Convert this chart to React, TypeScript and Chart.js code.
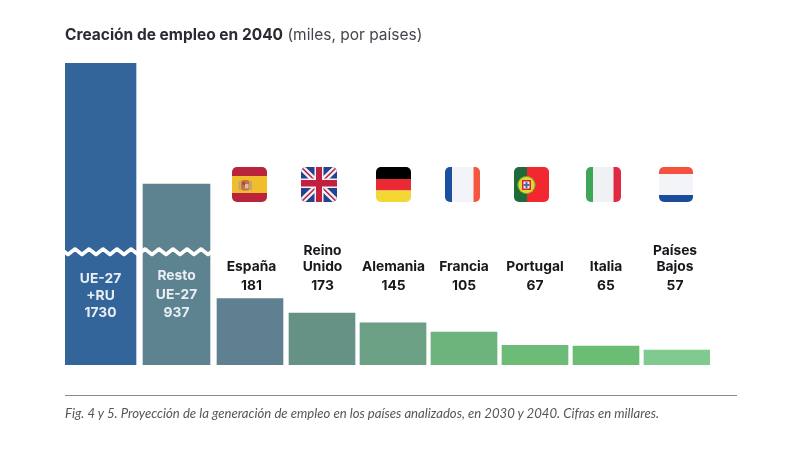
import React, { useEffect, useRef } from "react";
import { Chart, CategoryScale, registerables } from "chart.js";

Chart.register(...registerables);

const categories = ["UE-27 +RU", "Resto UE-27", "España", "Reino Unido", "Alemania", "Francia", "Portugal", "Italia", "Países Bajos"];
// Figures printed on the chart
const printedValues = [1730, 937, 181, 173, 145, 105, 67, 65, 57];
// Drawn bar lengths (the reference's axis is broken, so lengths differ from the printed figures)
const barLengths = [1730, 1037, 381, 298, 241, 189, 112, 109, 86];
const barColors = ["#33659a", "#5d8290", "#5e8090", "#659284", "#6ba084", "#6db37c", "#6cbc78", "#6abd72", "#80c98f"];

const SLOT_OFFSETS = [35.5, 111.5, 185, 257, 328, 399, 470, 541, 612];

class SlotScale extends CategoryScale {
  static id = "slot";
  static defaults = (CategoryScale as any).defaults;
  getPixelForValue(value: any, index?: number) {
    const i = typeof value === "number" ? value : index ?? 0;
    return (this as any).left + SLOT_OFFSETS[i];
  }
}
Chart.register(SlotScale as any);

const FONT = "Inter, 'Noto Sans', sans-serif";

const outsideLabels: { lines: string[]; dx: number }[] = [
  { lines: ["España"], dx: 1.5 },
  { lines: ["Reino", "Unido"], dx: 0.5 },
  { lines: ["Alemania"], dx: 0.5 },
  { lines: ["Francia"], dx: 0 },
  { lines: ["Portugal"], dx: 0 },
  { lines: ["Italia"], dx: 0 },
  { lines: ["Países", "Bajos"], dx: -2 },
];

function roundedClip(ctx: CanvasRenderingContext2D, x: number, y: number, w: number, h: number, draw: () => void) {
  ctx.save();
  ctx.beginPath();
  ctx.roundRect(x, y, w, h, 5);
  ctx.clip();
  draw();
  ctx.restore();
}

const FLAG_Y = 167;
const FLAG_S = 35;

function stripesH(ctx: CanvasRenderingContext2D, x: number, w: number, parts: [string, number][]) {
  let y = FLAG_Y;
  parts.forEach(([c, h]) => { ctx.fillStyle = c; ctx.fillRect(x, y, w, h); y += h; });
}
function stripesV(ctx: CanvasRenderingContext2D, x: number, parts: [string, number][]) {
  let xx = x;
  parts.forEach(([c, w]) => { ctx.fillStyle = c; ctx.fillRect(xx, FLAG_Y, w, FLAG_S); xx += w; });
}

function drawFlags(ctx: CanvasRenderingContext2D) {
  const y = FLAG_Y, s = FLAG_S;
  // Spain
  roundedClip(ctx, 232, y, s, s, () => {
    stripesH(ctx, 232, s, [["#b9233c", 9], ["#f2bd2d", 17], ["#b9233c", 9]]);
    ctx.fillStyle = "#bda67c"; ctx.fillRect(238.5, 181, 2, 9); ctx.fillRect(250, 181, 2, 9);
    ctx.fillStyle = "#c4704a"; ctx.beginPath(); ctx.roundRect(241, 180, 8.5, 10.5, 2.5); ctx.fill();
    ctx.fillStyle = "#d8bcae"; ctx.fillRect(245, 184, 3.5, 4.5);
    ctx.fillStyle = "#a8473c"; ctx.fillRect(242.5, 182, 2.5, 3);
  });
  // United Kingdom
  roundedClip(ctx, 301, y, s + 1, s, () => {
    const x = 301, w = s + 1;
    ctx.fillStyle = "#27408f"; ctx.fillRect(x, y, w, s);
    ctx.lineCap = "butt";
    ctx.strokeStyle = "#f2f3f6"; ctx.lineWidth = 6;
    ctx.beginPath(); ctx.moveTo(x, y); ctx.lineTo(x + w, y + s); ctx.moveTo(x + w, y); ctx.lineTo(x, y + s); ctx.stroke();
    ctx.strokeStyle = "#c1213f"; ctx.lineWidth = 1.6;
    ctx.beginPath(); ctx.moveTo(x, y); ctx.lineTo(x + w, y + s); ctx.moveTo(x + w, y); ctx.lineTo(x, y + s); ctx.stroke();
    ctx.fillStyle = "#f2f3f6"; ctx.fillRect(x + 13.5, y, 9, s); ctx.fillRect(x, y + 11.5, w, 9.5);
    ctx.fillStyle = "#c1213f"; ctx.fillRect(x + 15, y, 6, s); ctx.fillRect(x, y + 13, w, 6.5);
  });
  // Germany
  roundedClip(ctx, 376, y, s, s, () => {
    stripesH(ctx, 376, s, [["#000000", 12], ["#ea2b35", 11.5], ["#f3d733", 11.5]]);
  });
  // France
  roundedClip(ctx, 445, y, s, s, () => {
    stripesV(ctx, 445, [["#1b4fa0", 7], ["#f3f4f7", 21.5], ["#f65540", 6.5]]);
  });
  // Portugal
  roundedClip(ctx, 514, y, s, s, () => {
    stripesV(ctx, 514, [["#1f6b38", 13], ["#f2272f", 22]]);
    const cx = 526.5, cy = 185;
    ctx.fillStyle = "#e9d52f"; ctx.beginPath(); ctx.arc(cx, cy, 9, 0, Math.PI * 2); ctx.fill();
    ctx.strokeStyle = "#2e8a3c"; ctx.lineWidth = 0.7; ctx.beginPath(); ctx.arc(cx, cy, 8.6, 0, Math.PI * 2); ctx.stroke();
    ctx.fillStyle = "#d8262c"; ctx.fillRect(cx - 4.5, cy - 5, 9, 10);
    ctx.fillStyle = "#eef0f4"; ctx.fillRect(cx - 3, cy - 3.5, 6, 7);
    ctx.fillStyle = "#4a6ca8"; ctx.fillRect(cx - 1, cy - 3, 2, 6); ctx.fillRect(cx - 3, cy - 1, 6, 2);
  });
  // Italy
  roundedClip(ctx, 586, y, s, s, () => {
    stripesV(ctx, 586, [["#3fa558", 7], ["#eff1f4", 20.5], ["#e02a44", 7.5]]);
  });
  // Netherlands
  roundedClip(ctx, 659, y, 34, s, () => {
    stripesH(ctx, 659, 34, [["#f6503f", 7], ["#f3f4f7", 21], ["#1c4d9c", 7]]);
  });
}

const chartDecorations = {
  id: "chartDecorations",
  afterDatasetsDraw(chart: any) {
    const { ctx, scales } = chart;
    const xs = scales.x;

    // White break across the two tall bars
    ctx.save();
    ctx.strokeStyle = "#ffffff";
    ctx.lineWidth = 3.6;
    ctx.lineJoin = "round";
    ctx.beginPath();
    const period = 14;
    for (let i = 0, x = 61; x <= 216; i++, x += period / 2) {
      const yy = i % 2 === 0 ? 249 : 254.5;
      if (i === 0) ctx.moveTo(x, yy); else ctx.lineTo(x, yy);
    }
    ctx.stroke();
    ctx.restore();

    drawFlags(ctx);

    ctx.save();
    ctx.textAlign = "center";
    ctx.textBaseline = "alphabetic";
    ctx.font = `700 13.8px ${FONT}`;

    // Labels inside the tall bars
    ctx.fillStyle = "#e9eef4";
    const ue = xs.getPixelForValue(0);
    ctx.fillText("UE-27", ue, 283);
    ctx.fillText("+RU", ue, 300);
    ctx.fillText(String(printedValues[0]), ue, 317);
    const rest = xs.getPixelForValue(1);
    ctx.fillText("Resto", rest, 280);
    ctx.fillText("UE-27", rest, 299);
    ctx.fillText(String(printedValues[1]), rest, 317);

    // Labels above the country bars
    ctx.fillStyle = "#17171c";
    outsideLabels.forEach((lab, k) => {
      const cx = xs.getPixelForValue(k + 2) + lab.dx;
      if (lab.lines.length === 2) {
        ctx.fillText(lab.lines[0], cx, 255);
        ctx.fillText(lab.lines[1], cx, 271);
      } else {
        ctx.fillText(lab.lines[0], cx, 271);
      }
      ctx.fillText(String(printedValues[k + 2]), cx, 290);
    });
    ctx.restore();
  },
};

export default function App() {
  const ref = useRef<HTMLCanvasElement>(null);
  useEffect(() => {
    document.body.style.margin = "0";
    document.body.style.background = "#ffffff";
    const only = (from: number, to: number) => barLengths.map((v, i) => (i >= from && i < to ? v : null));
    const chart = new Chart(ref.current!, {
      type: "bar",
      data: {
        labels: categories,
        datasets: [
          { label: "UE-27 +RU", data: only(0, 1), barThickness: 71, backgroundColor: barColors, grouped: false },
          { label: "Resto UE-27", data: only(1, 2), barThickness: 67, backgroundColor: barColors, grouped: false },
          { label: "Países", data: only(2, 9), barThickness: 66, backgroundColor: barColors, grouped: false },
        ] as any,
      },
      options: {
        animation: false,
        responsive: false,
        layout: { padding: { left: 65, right: 90, top: 63, bottom: 86 } },
        plugins: { legend: { display: false }, title: { display: false }, tooltip: { enabled: false } },
        scales: {
          x: { type: "slot" as any, display: false },
          y: { display: false, min: 0, max: 1730 },
        },
      },
      plugins: [chartDecorations],
    });
    return () => chart.destroy();
  }, []);

  return (
    <div style={{ position: "absolute", left: 0, top: 0, width: 800, height: 451, overflow: "hidden", background: "#fff" }}>
      <canvas ref={ref} width={800} height={451} style={{ position: "absolute", left: 0, top: 0 }} />
      <div style={{ position: "absolute", left: 65, top: 25, fontFamily: FONT, fontSize: 15.5, lineHeight: "20px", color: "#2a2a33", whiteSpace: "nowrap" }}>
        <span style={{ fontWeight: 700 }}>Creación de empleo en 2040</span>{" "}
        <span style={{ fontWeight: 400, color: "#45454d" }}>(miles, por países)</span>
      </div>
      <div style={{ position: "absolute", left: 65, top: 395, width: 672, height: 1, background: "#8a8a8a" }} />
      <div style={{ position: "absolute", left: 65, top: 405, fontFamily: "Lato, sans-serif", fontStyle: "italic", fontSize: 13.15, lineHeight: "16px", color: "#55555c", whiteSpace: "nowrap" }}>
        Fig. 4 y 5. Proyección de la generación de empleo en los países analizados, en 2030 y 2040. Cifras en millares.
      </div>
    </div>
  );
}
